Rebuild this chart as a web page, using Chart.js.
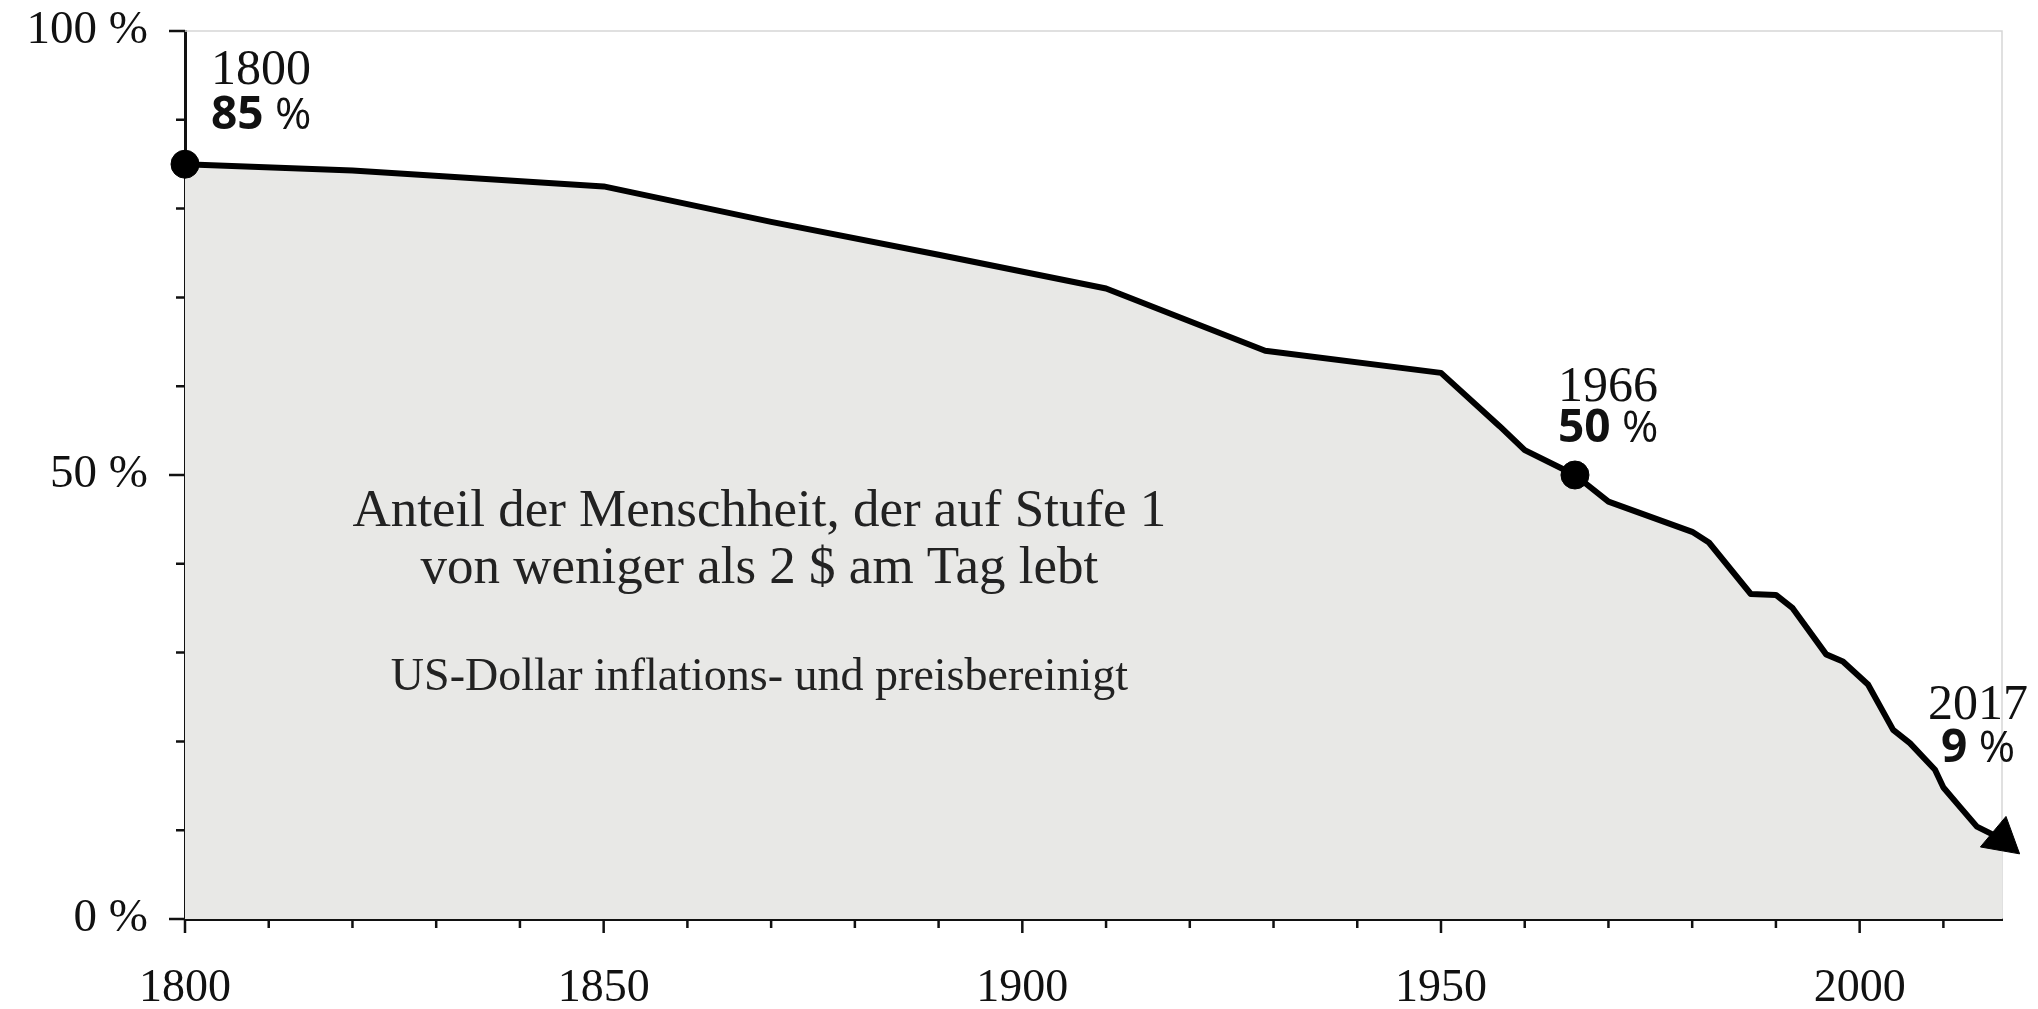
<!DOCTYPE html>
<html>
<head>
<meta charset="utf-8">
<script src="https://cdn.jsdelivr.net/npm/chart.js@4.4.1/dist/chart.umd.min.js"></script>
<style>
  html, body { margin: 0; padding: 0; background: #fff; }
  #wrap { width: 2038px; height: 1009px; position: relative; }
</style>
</head>
<body>
<div id="wrap"><canvas id="povertyChart"></canvas></div>
<script>
// Anteil der Menschheit in extremer Armut
const years = [1800, 1820, 1850, 1870, 1890, 1910, 1929, 1950, 1957, 1960, 1966, 1970, 1980, 1982, 1987, 1990, 1992, 1996, 1998, 2001, 2004, 2006, 2009, 2010, 2012, 2014, 2017];
const shares = [85, 84.3, 82.5, 78.5, 74.8, 71.0, 64.0, 61.5, 55.5, 52.8, 50, 47.0, 43.6, 42.4, 36.6, 36.5, 35.0, 29.8, 29.0, 26.4, 21.3, 19.8, 16.8, 14.8, 12.6, 10.4, 9];

const markedYears = [1800, 1966, 2017];
const xLabelYears = [1800, 1850, 1900, 1950, 2000];
const yLabelValues = [0, 50, 100];

const noteLines = ["Anteil der Menschheit, der auf Stufe 1", "von weniger als 2 $ am Tag lebt"];
const noteSub = "US-Dollar inflations- und preisbereinigt";

const SERIF = "'Liberation Serif', 'Times New Roman', serif";
const SANS = "'Open Sans', 'Noto Sans', sans-serif";
const INK = "#111";

// where the callouts sit relative to their point (px)
const calloutPlacement = {
  1800: { dx: 26, dyYear: -93, dyValue: -48, align: "left" },
  1966: { dx: -17, dyYear: -87, dyValue: -46, align: "left" },
  2017: { dx: -24, dyYear: -133, dyValue: -90, align: "center" },
};

const lastIdx = years.length - 1;

// frame + tick marks
const axisDecor = {
  id: "axisDecor",
  beforeDatasetsDraw(chart) {
    const { ctx, chartArea } = chart;
    ctx.save();
    ctx.strokeStyle = "#d6d6d6";
    ctx.lineWidth = 1.5;
    ctx.beginPath();
    ctx.moveTo(chartArea.left, chartArea.top);
    ctx.lineTo(chartArea.right, chartArea.top);
    ctx.lineTo(chartArea.right, chartArea.bottom);
    ctx.stroke();
    ctx.restore();
  },
  afterDraw(chart) {
    const { ctx, chartArea, scales } = chart;
    ctx.save();
    ctx.strokeStyle = INK;
    ctx.lineWidth = 2.5;
    ctx.beginPath();
    scales.x.ticks.forEach((t) => {
      const px = scales.x.getPixelForValue(t.value);
      const len = xLabelYears.includes(t.value) ? 14 : 9;
      ctx.moveTo(px, chartArea.bottom);
      ctx.lineTo(px, chartArea.bottom + len);
    });
    scales.y.ticks.forEach((t) => {
      const py = scales.y.getPixelForValue(t.value);
      const len = yLabelValues.includes(t.value) ? 16 : 9;
      ctx.moveTo(chartArea.left, py);
      ctx.lineTo(chartArea.left - len, py);
    });
    ctx.stroke();
    ctx.restore();
  },
};

// year / value callouts + centred note
const textLayer = {
  id: "textLayer",
  afterDraw(chart) {
    const { ctx, scales } = chart;
    ctx.save();
    ctx.fillStyle = INK;
    ctx.textBaseline = "middle";

    markedYears.forEach((yr) => {
      const i = years.indexOf(yr);
      const p = calloutPlacement[yr];
      const px = scales.x.getPixelForValue(years[i]);
      const py = scales.y.getPixelForValue(shares[i]);

      const yearFont = "50px " + SERIF;
      const numFont = "bold 46px " + SANS;
      const pctFont = "500 44px " + SANS;
      const num = String(shares[i]);

      ctx.font = numFont;
      const numW = ctx.measureText(num).width;
      ctx.font = pctFont;
      const pctW = ctx.measureText(" %").width;
      ctx.font = yearFont;
      const yearW = ctx.measureText(String(yr)).width;

      let x0 = px + p.dx;
      let yearX = x0, valX = x0;
      if (p.align === "center") {
        yearX = x0 - yearW / 2;
        valX = x0 - (numW + pctW) / 2;
      }
      ctx.textAlign = "left";
      ctx.font = yearFont;
      ctx.fillText(String(yr), yearX, py + p.dyYear);
      ctx.font = numFont;
      ctx.fillText(num, valX, py + p.dyValue);
      ctx.font = pctFont;
      ctx.fillText(" %", valX + numW, py + p.dyValue);
    });

    ctx.textAlign = "center";
    const cx = scales.x.getPixelForValue(1868.6);
    ctx.fillStyle = "#222";
    ctx.font = "53px " + SERIF;
    ctx.fillText(noteLines[0], cx, scales.y.getPixelForValue(45.8));
    ctx.fillText(noteLines[1], cx, scales.y.getPixelForValue(39.4));
    ctx.font = "46px " + SERIF;
    ctx.fillText(noteSub, cx, scales.y.getPixelForValue(27.2));
    ctx.restore();
  },
};

function initChart() {
  const ctx = document.getElementById("povertyChart").getContext("2d");
  new Chart(ctx, {
    type: "line",
    data: {
      datasets: [
        {
          label: "Anteil",
          data: years.map((yr, i) => ({ x: yr, y: shares[i] })),
          borderColor: "#000",
          borderWidth: 6,
          borderJoinStyle: "round",
          backgroundColor: "#e8e8e6",
          fill: "origin",
          tension: 0,
          clip: false,
          pointStyle: years.map((_, i) => (i === lastIdx ? "triangle" : "circle")),
          pointRotation: years.map((_, i) => (i === lastIdx ? 130 : 0)),
          pointRadius: years.map((yr, i) =>
            i === lastIdx ? 23 : markedYears.includes(yr) ? 14 : 0
          ),
          pointBackgroundColor: "#000",
          pointBorderColor: "#000",
          pointBorderWidth: 1,
        },
      ],
    },
    options: {
      responsive: true,
      maintainAspectRatio: false,
      animation: false,
      events: [],
      layout: { padding: { top: 31, right: 36, left: 0, bottom: 0 } },
      plugins: {
        legend: { display: false },
        tooltip: { enabled: false },
      },
      scales: {
        x: {
          type: "linear",
          min: 1800,
          max: 2017,
          z: 1,
          grid: { display: false, drawTicks: false, tickLength: 0 },
          border: { display: true, color: INK, width: 3 },
          ticks: {
            stepSize: 10,
            includeBounds: false,
            autoSkip: false,
            maxRotation: 0,
            padding: 42,
            color: INK,
            font: { family: SERIF, size: 46 },
            callback: (v) => (xLabelYears.includes(v) ? String(v) : ""),
          },
          afterFit: (s) => {
            s.height = 90;
            s.paddingLeft = 0;
            s.paddingRight = 0;
          },
        },
        y: {
          min: 0,
          max: 100,
          z: 1,
          grid: { display: false, drawTicks: false, tickLength: 0 },
          border: { display: true, color: INK, width: 3 },
          ticks: {
            stepSize: 10,
            autoSkip: false,
            padding: 37,
            color: INK,
            font: { family: SERIF, size: 47 },
            callback: (v) => (yLabelValues.includes(v) ? v + " %" : ""),
          },
          afterFit: (s) => {
            s.width = 185;
            s.paddingTop = 0;
            s.paddingBottom = 0;
          },
        },
      },
    },
    plugins: [axisDecor, textLayer],
  });
}

window.onload = initChart;
</script>
</body>
</html>
